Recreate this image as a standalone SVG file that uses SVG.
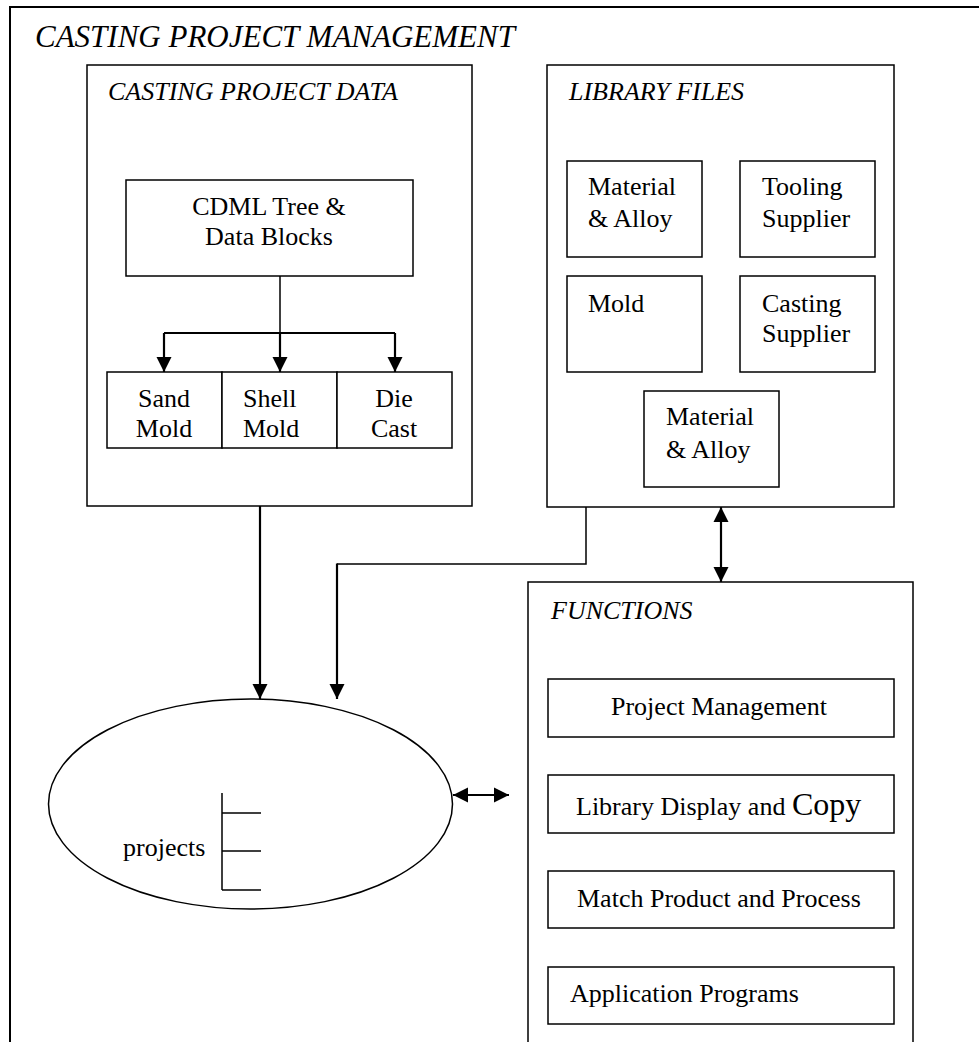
<svg xmlns="http://www.w3.org/2000/svg" width="979" height="1042" viewBox="0 0 979 1042">
<style>
.box{fill:#fff;stroke:#000;stroke-width:1.5}
.frame{fill:none;stroke:#000;stroke-width:2}
.t{font-family:"Liberation Serif","Times New Roman",serif;font-size:26px;fill:#000}
.i{font-style:italic}
.c{text-anchor:middle}
.ln{fill:none;stroke:#000;stroke-width:1.5}
.ar{fill:none;stroke:#000;stroke-width:2.2}
</style>
<defs>
<marker id="ah" markerUnits="userSpaceOnUse" markerWidth="16" markerHeight="16" refX="15" refY="7.5" orient="auto-start-reverse" viewBox="0 0 16 15">
<path d="M0,0 L15,7.5 L0,15 z" fill="#000"/>
</marker>
</defs>
<rect width="979" height="1042" fill="#fff"/>
<g id="outer">
<path class="frame" d="M10,1042 V7 H979"/>
<text class="t i" x="35" y="47" style="font-size:31px">CASTING PROJECT MANAGEMENT</text>
</g>
<g id="project-data">
<rect class="box" x="87" y="65" width="385" height="441"/>
<text class="t i" x="108" y="100">CASTING PROJECT DATA</text>
</g>
<g id="cdml">
<rect class="box" x="126" y="180" width="287" height="96"/>
<text class="t c" x="269" y="215">CDML Tree &amp;</text>
<text class="t c" x="269" y="245">Data Blocks</text>
</g>
<g id="sand-mold">
<rect class="box" x="107" y="372" width="115" height="76"/>
<text class="t c" x="164" y="407">Sand</text>
<text class="t c" x="164" y="437">Mold</text>
</g>
<g id="shell-mold">
<rect class="box" x="222" y="372" width="115" height="76"/>
<text class="t" x="243" y="407">Shell</text>
<text class="t" x="243" y="437">Mold</text>
</g>
<g id="die-cast">
<rect class="box" x="337" y="372" width="115" height="76"/>
<text class="t c" x="394" y="407">Die</text>
<text class="t c" x="394" y="437">Cast</text>
</g>
<g id="library-files">
<rect class="box" x="547" y="65" width="347" height="442"/>
<text class="t i" x="569" y="100">LIBRARY FILES</text>
</g>
<g id="lib-material-1">
<rect class="box" x="567" y="161" width="135" height="96"/>
<text class="t" x="588" y="195">Material</text>
<text class="t" x="588" y="227">&amp; Alloy</text>
</g>
<g id="lib-tooling">
<rect class="box" x="740" y="161" width="135" height="96"/>
<text class="t" x="762" y="195">Tooling</text>
<text class="t" x="762" y="227">Supplier</text>
</g>
<g id="lib-mold">
<rect class="box" x="567" y="276" width="135" height="96"/>
<text class="t" x="588" y="312">Mold</text>
</g>
<g id="lib-casting">
<rect class="box" x="740" y="276" width="135" height="96"/>
<text class="t" x="762" y="312">Casting</text>
<text class="t" x="762" y="342">Supplier</text>
</g>
<g id="lib-material-2">
<rect class="box" x="644" y="391" width="135" height="96"/>
<text class="t" x="666" y="425">Material</text>
<text class="t" x="666" y="458">&amp; Alloy</text>
</g>
<g id="functions">
<path class="box" d="M528,1050 V582 H913 V1050"/>
<text class="t i" x="551" y="619">FUNCTIONS</text>
</g>
<g id="fn-project-management">
<rect class="box" x="548" y="679" width="346" height="58"/>
<text class="t" x="611" y="715">Project Management</text>
</g>
<g id="fn-library-display">
<rect class="box" x="548" y="775" width="346" height="58"/>
<text class="t" x="576" y="815">Library Display and <tspan style="font-size:32px">Copy</tspan></text>
</g>
<g id="fn-match">
<rect class="box" x="548" y="871" width="346" height="57"/>
<text class="t" x="577" y="907">Match Product and Process</text>
</g>
<g id="fn-application">
<rect class="box" x="548" y="967" width="346" height="57"/>
<text class="t" x="570" y="1002">Application Programs</text>
</g>
<g id="projects">
<ellipse class="box" cx="250.5" cy="804" rx="202" ry="105"/>
<path class="ln" d="M222,793 V890 M222,813 H261 M222,851 H261 M222,890 H261"/>
<text class="t" x="123" y="856">projects</text>
</g>
<g id="connectors">
<path class="ln" d="M280,276 V333"/>
<path class="ar" d="M164,333 H395"/>
<path class="ar" d="M164,333 V372" marker-end="url(#ah)"/>
<path class="ar" d="M280,333 V372" marker-end="url(#ah)"/>
<path class="ar" d="M395,333 V372" marker-end="url(#ah)"/>
<path class="ar" d="M260,506 V699" marker-end="url(#ah)"/>
<path class="ln" d="M586,507 V564 H337"/>
<path class="ar" d="M337,563.5 V699" marker-end="url(#ah)"/>
<path class="ar" d="M721,507 V582" marker-start="url(#ah)" marker-end="url(#ah)"/>
<path class="ar" d="M453,795 H509" marker-start="url(#ah)" marker-end="url(#ah)"/>
</g>
</svg>
